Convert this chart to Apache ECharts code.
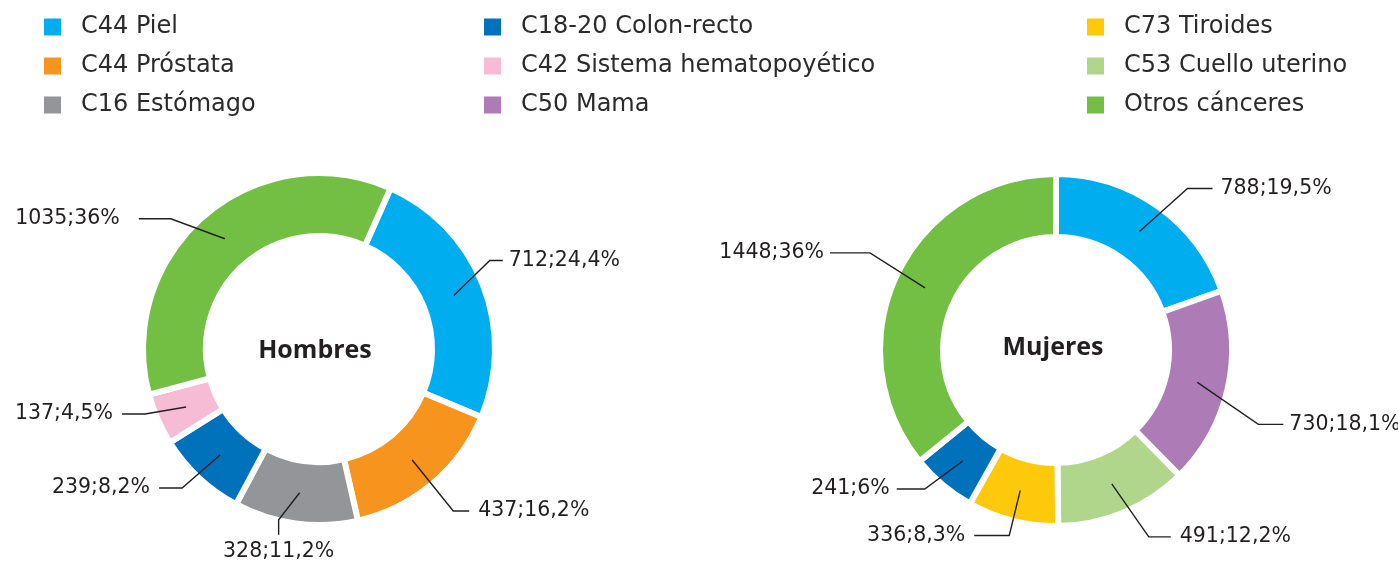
<!DOCTYPE html>
<html>
<head>
<meta charset="utf-8">
<script src="https://cdn.jsdelivr.net/npm/echarts@6/dist/echarts.min.js"></script>
<style>
  html, body { margin: 0; padding: 0; background: #fff; }
  #main { width: 1398px; height: 563px; }
</style>
</head>
<body>
<div id="main"></div>
<script>
// nombres y colores de cada tipo de cáncer
var tipos = ['C44 Piel', 'C44 Próstata', 'C16 Estómago', 'C18-20 Colon-recto', 'C42 Sistema hematopoyético',
             'C50 Mama', 'C73 Tiroides', 'C53 Cuello uterino', 'Otros cánceres'];
var colores = ['#00aeef', '#f7941d', '#939598', '#0071bb', '#f6bcd6', '#ad7bb5', '#ffc90b', '#afd68b', '#72bf44'];

// Hombres
var hombresNombres = ['C44 Piel', 'C44 Próstata', 'C16 Estómago', 'C18-20 Colon-recto', 'C42 Sistema hematopoyético', 'Otros cánceres'];
var hombresCasos = [712, 437, 328, 239, 137, 1035];
var hombresPct = ['24,4', '16,2', '11,2', '8,2', '4,5', '36'];

// Mujeres
var mujeresNombres = ['C44 Piel', 'C50 Mama', 'C53 Cuello uterino', 'C73 Tiroides', 'C18-20 Colon-recto', 'Otros cánceres'];
var mujeresCasos = [788, 730, 491, 336, 241, 1448];
var mujeresPct = ['19,5', '18,1', '12,2', '8,3', '6', '36'];

var legendCols = [
  ['C44 Piel', 'C44 Próstata', 'C16 Estómago'],
  ['C18-20 Colon-recto', 'C42 Sistema hematopoyético', 'C50 Mama'],
  ['C73 Tiroides', 'C53 Cuello uterino', 'Otros cánceres']
];

// forma de cada línea guía: [dx, dy] del codo, largo del tramo horizontal (0 = tramo vertical, etiqueta debajo), separación del texto
var hombresGuia = [[36, -35, 13, 6], [41, 51, 16, 9], [-21, 27, 0, 6], [-38, 33, -23, 9], [-41, 7, -23, 9], [-54, -20, -32, 19]];
var mujeresGuia = [[48, -43, 25, 8], [61, 42, 25, 6], [37, 53, 22, 9], [-11, 45, -35, 9], [-38, 28, -28, 7], [-55, -35, -40, 6]];

var texto = '#231f20';

function color(name) {
  return colores[tipos.indexOf(name)];
}

function anillo(nombres, casos, centro, startAngle) {
  return {
    type: 'pie',
    z: 1,
    center: centro,
    radius: [113, 176],
    startAngle: startAngle,
    clockwise: true,
    silent: true,
    label: { show: false },
    labelLine: { show: false },
    itemStyle: { borderColor: '#fff', borderWidth: 6 },
    data: nombres.map(function (n, i) {
      return { name: n, value: casos[i], itemStyle: { color: color(n) } };
    })
  };
}

// serie invisible solo para las etiquetas: las líneas salen del centro del anillo
function etiquetas(nombres, casos, pct, centro, startAngle, guia) {
  return {
    type: 'pie',
    z: 10,
    zlevel: 1,
    center: centro,
    radius: [0, 145],
    startAngle: startAngle,
    clockwise: true,
    silent: true,
    legendHoverLink: false,
    itemStyle: { color: 'rgba(0,0,0,0)' },
    label: {
      show: true,
      position: 'outside',
      color: texto,
      fontFamily: '"DejaVu Sans", sans-serif',
      fontSize: 20.5,
      overflow: 'none',
      bleedMargin: 0,
      formatter: function (p) { return casos[p.dataIndex] + ';' + pct[p.dataIndex] + '%'; }
    },
    labelLine: {
      show: true,
      length: 50,
      length2: 20,
      lineStyle: { color: texto, width: 1.4 }
    },
    labelLayout: function (params) {
      var pts = params.labelLinePoints;
      if (!pts) return {};
      var g = guia[params.dataIndex];
      var p0 = pts[0];
      var codo = [p0[0] + g[0], p0[1] + g[1]];
      if (g[2] === 0) {
        var fin = [codo[0], codo[1] + 15];
        return { labelLinePoints: [p0, codo, fin], x: codo[0], y: fin[1] + g[3],
                 align: 'center', verticalAlign: 'top' };
      }
      var fin2 = [codo[0] + g[2], codo[1]];
      var der = g[2] > 0;
      return { labelLinePoints: [p0, codo, fin2], x: fin2[0] + (der ? g[3] : -g[3]), y: codo[1],
               align: der ? 'left' : 'right', verticalAlign: 'middle' };
    },
    data: nombres.map(function (n, i) {
      return { name: n, value: casos[i] };
    })
  };
}

var chart = echarts.init(document.getElementById('main'));

var legendLeft = [37, 477, 1080];

chart.setOption({
  backgroundColor: '#fff',
  animation: false,
  title: [
    { text: 'Hombres', left: 310, top: 346, textAlign: 'center', textVerticalAlign: 'middle',
      textStyle: { fontFamily: '"Open Sans", sans-serif', fontWeight: 'bold', fontSize: 25, color: texto } },
    { text: 'Mujeres', left: 1048, top: 343, textAlign: 'center', textVerticalAlign: 'middle',
      textStyle: { fontFamily: '"Open Sans", sans-serif', fontWeight: 'bold', fontSize: 25, color: texto } }
  ],
  legend: legendCols.map(function (col, k) {
    return {
      orient: 'vertical',
      left: legendLeft[k],
      top: 10,
      itemWidth: 19,
      itemHeight: 19,
      itemGap: 15,
      icon: 'rect',
      selectedMode: false,
      textStyle: { fontFamily: '"DejaVu Sans", sans-serif', fontSize: 24, lineHeight: 24,
                   color: '#2b2b2b', padding: [0, 0, 0, 14] },
      data: col.map(function (n) { return { name: n, itemStyle: { color: color(n) } }; })
    };
  }),
  series: [
    anillo(hombresNombres, hombresCasos, [319, 349], 66),
    anillo(mujeresNombres, mujeresCasos, [1056, 350], 90),
    etiquetas(hombresNombres, hombresCasos, hombresPct, [319, 349], 66, hombresGuia),
    etiquetas(mujeresNombres, mujeresCasos, mujeresPct, [1056, 350], 90, mujeresGuia)
  ]
});
</script>
</body>
</html>
